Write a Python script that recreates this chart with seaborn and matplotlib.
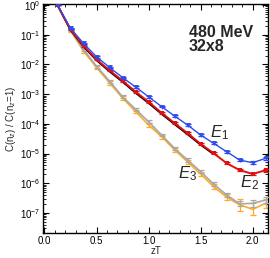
import numpy as np
import pandas as pd
import seaborn as sns
import matplotlib
matplotlib.use("Agg")
import matplotlib.pyplot as plt
from matplotlib.ticker import LogLocator, MultipleLocator, NullFormatter, FixedLocator

# ---- data ----
zT = [0.125, 0.25, 0.375, 0.5, 0.625, 0.75, 0.875, 1.0, 1.125, 1.25, 1.375,
      1.5, 1.625, 1.75, 1.875, 2.0, 2.125]
E1 = [1, 0.166, 0.0513, 0.0182, 0.00794, 0.00363, 0.00174, 0.000813, 0.00038,
      0.000182, 9.1e-5, 4.2e-5, 2.2e-5, 1.15e-5, 6.0e-6, 4.9e-6, 6.9e-6]
E2 = [1, 0.151, 0.0427, 0.0148, 0.0063, 0.00282, 0.0012, 0.00055, 0.000234,
      0.000105, 4.8e-5, 2.1e-5, 1.02e-5, 4.7e-6, 2.75e-6, 2.04e-6, 2.75e-6]
E2_black = [1, 0.145, 0.040, 0.0138, 0.0058, 0.0026, 0.00110, 0.00050,
            0.000215, 9.6e-5, 4.4e-5, 1.95e-5, 9.5e-6]
E3_gray = [1, 0.145, 0.0316, 0.0087, 0.00275, 0.00081, 0.00031, 0.000117,
           4.2e-5, 1.48e-5, 6.0e-6, 2.45e-6, 9.3e-7, 4.0e-7, 2.0e-7, 2.1e-7, 2.7e-7]
E3 = [1, 0.138, 0.0282, 0.0079, 0.0024, 0.00074, 0.00026, 9.1e-5, 3.7e-5,
      1.32e-5, 5.2e-6, 2.04e-6, 7.6e-7, 3.4e-7, 1.86e-7, 1.32e-7, 2.1e-7]
# relative errors (fraction of value)
E1_err = [0.02, 0.06, 0.06, 0.06, 0.06, 0.06, 0.07, 0.07, 0.07, 0.07, 0.08,
          0.08, 0.08, 0.09, 0.09, 0.10, 0.12]
E2_err = [0.02, 0.06, 0.06, 0.06, 0.06, 0.06, 0.07, 0.07, 0.07, 0.07, 0.08,
          0.08, 0.08, 0.09, 0.09, 0.10, 0.12]
E3g_err = [0.02, 0.10, 0.12, 0.12, 0.12, 0.12, 0.12, 0.12, 0.12, 0.13, 0.14,
           0.15, 0.16, 0.18, 0.22, 0.30, 0.30]
E3_err = [0.02, 0.10, 0.15, 0.15, 0.15, 0.15, 0.15, 0.15, 0.16, 0.17, 0.18,
          0.20, 0.22, 0.30, 0.55, 0.60, 0.45]
labels = ['$E_1$', '$E_2$', '$E_3$']
yticks = [1e0, 1e-1, 1e-2, 1e-3, 1e-4, 1e-5, 1e-6, 1e-7]
xticks = [0.0, 0.5, 1.0, 1.5, 2.0]

sns.set_theme(style="ticks")
plt.rcParams['font.family'] = ['Liberation Sans', 'DejaVu Sans']
plt.rcParams['mathtext.fontset'] = 'custom'
plt.rcParams['mathtext.rm'] = 'Liberation Sans'
plt.rcParams['mathtext.it'] = 'Liberation Sans:italic'

fig = plt.figure(figsize=(2.70, 2.58), dpi=100)
ax = fig.add_axes([0.159, 0.097, 0.834, 0.887])

c_blue = '#2a4cf0'
c_red = '#e01010'
c_gray = '#a8a8a8'
c_orange = '#ffaa22'

def draw(vals, errs, color, lw, marker, ms, z):
    n = len(vals)
    df = pd.DataFrame({'zT': zT[:n], 'C': vals})
    sns.lineplot(data=df, x='zT', y='C', ax=ax, color=color, lw=lw,
                 marker=marker, markersize=ms, markeredgewidth=0, zorder=z)
    if errs is not None:
        v = np.array(vals)
        e = np.array(errs[:n])
        lo = v - v / (1 + e)
        hi = v * e
        ax.errorbar(zT[:n], v, yerr=[lo, hi], fmt='none', ecolor=color,
                    elinewidth=0.9, capsize=2.5, capthick=0.9, zorder=z)

draw(E3, E3_err, c_orange, 1.2, None, 0, 2)
draw(E3_gray, E3g_err, c_gray, 1.2, None, 0, 3)
draw(E2_black, None, 'black', 1.3, None, 0, 4)
draw(E2, E2_err, c_red, 1.4, 's', 3.5, 5)
draw(E1, E1_err, c_blue, 1.0, 'v', 3.5, 6)

ax.set_yscale('log')
ax.set_xlim(-0.015, 2.148)
ax.set_ylim(2.1e-8, 1.08)
ax.set_xticks(xticks)
ax.set_xticklabels([f'{t:.1f}' for t in xticks])
ax.xaxis.set_minor_locator(MultipleLocator(0.1))
ax.yaxis.set_major_locator(FixedLocator(yticks))
ax.set_yticklabels([rf'$10^{{{int(round(np.log10(t)))}}}$' for t in yticks])
ax.yaxis.set_minor_locator(LogLocator(base=10, subs=np.arange(2, 10), numticks=20))
ax.yaxis.set_minor_formatter(NullFormatter())
ax.tick_params(which='both', direction='in', top=True, right=True,
               labelsize=7, pad=2, colors='black')
ax.tick_params(which='major', length=4, width=0.8)
ax.tick_params(which='minor', length=2, width=0.6)
for s in ax.spines.values():
    s.set_linewidth(1.0)
    s.set_color('black')

ax.set_xlabel('zT', fontsize=7, labelpad=0)
ax.set_ylabel(r'C(n$_z$) / C(n$_z$=1)', fontsize=7, labelpad=1)

ax.text(0.649, 0.91, '480 MeV\n32x8', transform=ax.transAxes, fontsize=11.5,
        fontweight='bold', va='top', ha='left', linespacing=0.95)
ax.text(1.59, 3.6e-5, labels[0], fontsize=12, va='baseline')
ax.text(1.88, 7.4e-7, labels[1], fontsize=12, va='baseline')
ax.text(1.28, 1.5e-6, labels[2], fontsize=12, va='baseline')

fig.savefig('out.png', dpi=100)
